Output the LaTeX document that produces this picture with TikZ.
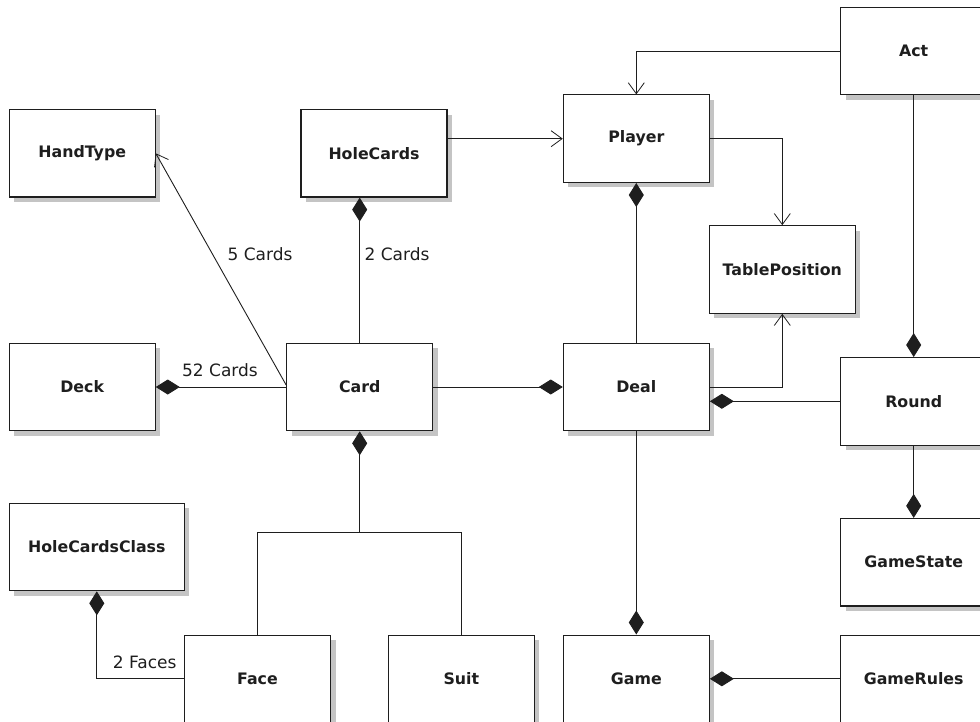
\documentclass[tikz,border=0pt]{standalone}
\usepackage{fontspec}
\setmainfont{DejaVu Sans}
\usetikzlibrary{arrows.meta,shadows}
\definecolor{ink}{HTML}{1E1E1E}
\definecolor{shade}{HTML}{C4C4C4}
\begin{document}
\begin{tikzpicture}[x=1pt,y=-1pt,
  cls/.style={draw=ink,fill=white,line width=1.1pt,minimum width=146pt,
    minimum height=87.5pt,inner sep=0pt,text=ink,
    font=\fontsize{15.8}{18}\selectfont\bfseries,
    drop shadow={shadow xshift=5pt,shadow yshift=-5pt,fill=shade,opacity=1}},
  link/.style={draw=ink,line width=0.9pt},
  comp/.style={link,-{Diamond[length=24pt,width=15pt,fill=ink]}},
  assoc/.style={link,-{Straight Barb[length=11pt,width=16pt,line width=0.8pt]}},
  lbl/.style={text=ink,inner sep=0pt,font=\fontsize{17}{20}\selectfont}]
\useasboundingbox (0,0) rectangle (980,722);
\clip (0,0) rectangle (980,722);

% classes
\node[cls] (handtype) at (82.2,153.3) {HandType};
\node[cls] (holecards) at (374,153.3) {HoleCards};
\node[cls] (player) at (636.3,138.7) {Player};
\node[cls] (act) at (913.7,51.2) {Act};
\node[cls] (tablepos) at (782.3,269.5) {TablePosition};
\node[cls] (deck) at (82.2,387) {Deck};
\node[cls] (card) at (359.7,387) {Card};
\node[cls] (deal) at (636.3,387) {Deal};
\node[cls] (round) at (913.7,401.3) {Round};
\node[cls,minimum width=175pt] (hcc) at (96.8,547) {HoleCardsClass};
\node[cls] (gamestate) at (913.7,562.2) {GameState};
\node[cls] (face) at (257.5,678.8) {Face};
\node[cls] (suit) at (461.3,678.8) {Suit};
\node[cls] (game) at (636.3,678.8) {Game};
\node[cls] (gamerules) at (913.7,678.8) {GameRules};

% associations
\draw[assoc] (act.west) -| (player.north);
\draw[assoc] (holecards.east |- player.west) -- (player.west);
\draw[assoc] (player.east) -| (tablepos.north);
\draw[assoc] (deal.east) -| (tablepos.south);
\draw[assoc] ([yshift=2pt]card.west) -- (handtype.east);

% compositions
\draw[comp] (round.west) -- (deal.east |- round.west);
\draw[comp] (act.south) -- (round.north);
\draw[comp] (deal.north) -- (player.south);
\draw[comp] (card.east) -- (deal.west);
\draw[comp] (card.west) -- (deck.east);
\draw[comp] (card.north) -- (card.north |- holecards.south);
\draw[comp] (deal.south) -- (game.north);
\draw[comp] (gamerules.west) -- (game.east);
\draw[comp] (round.south) -- (gamestate.north);
\draw[comp] (face.west) -| (hcc.south);

% Card is made of a Face and a Suit
\coordinate (fork) at (359.7,532.7);
\draw[comp] (fork) -- (card.south);
\draw[link] (face.north) |- (fork) -| (suit.north);

% multiplicities
\node[lbl] (l5) at (260,254) {5 Cards};
\node[lbl] (l2) at (397,254) {2 Cards};
\node[lbl] (l52) at (220,370) {52 Cards};
\node[lbl] (lf) at (144.7,662.7) {2 Faces};
\end{tikzpicture}
\end{document}
